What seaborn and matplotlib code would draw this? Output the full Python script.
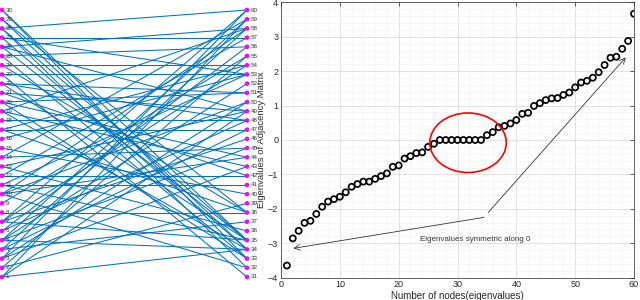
import pandas as pd
import matplotlib
matplotlib.use("Agg")
import matplotlib.pyplot as plt
from matplotlib.patches import Ellipse
from matplotlib.ticker import MultipleLocator
import seaborn as sns

# ---- data ----
node_index = list(range(1, 61))
eigenvalues = [
    -3.65, -2.86, -2.64, -2.41, -2.35, -2.15, -1.94, -1.79, -1.72, -1.65,
    -1.52, -1.36, -1.28, -1.21, -1.21, -1.13, -1.05, -0.97, -0.78, -0.74,
    -0.54, -0.47, -0.38, -0.36, -0.20, -0.11, 0.0, 0.0, 0.0, 0.0,
    0.0, 0.0, 0.0, 0.0, 0.14, 0.23, 0.37, 0.41, 0.48, 0.58,
    0.76, 0.79, 0.99, 1.07, 1.16, 1.21, 1.22, 1.31, 1.38, 1.53,
    1.67, 1.72, 1.81, 1.97, 2.18, 2.39, 2.42, 2.65, 2.88, 3.67,
]

left_nodes = list(range(1, 31))
right_nodes = list(range(31, 61))

# bipartite edges (left node -> right node)
edge_src = [30, 30, 29, 29, 28, 28, 28, 27, 27, 27,
            26, 26, 26, 25, 25, 24, 24, 23, 23, 22,
            22, 22, 21, 21, 20, 20, 20, 19, 19, 19,
            18, 17, 17, 17, 16, 15, 14, 14, 13, 13,
            12, 12, 11, 11, 11, 10, 10, 10, 10, 9,
            8, 7, 7, 7, 7, 6, 6, 5, 5, 5,
            5, 4, 4, 4, 3, 3, 3, 2, 2, 1,
            1, 1]
edge_dst = [35, 33, 34, 38, 60, 35, 32, 53, 34, 57,
            58, 35, 49, 56, 33, 54, 38, 53, 31, 48,
            35, 51, 49, 42, 51, 44, 33, 58, 43, 34,
            48, 47, 54, 38, 53, 40, 45, 59, 49, 36,
            57, 42, 53, 41, 35, 58, 50, 44, 32, 55,
            38, 60, 54, 46, 35, 56, 48, 59, 52, 45,
            34, 58, 47, 37, 60, 50, 43, 55, 39, 34,
            59, 49]

# ---- tables for seaborn ----
rows = []
for k, (a, b) in enumerate(zip(edge_src, edge_dst)):
    rows.append({"edge": k, "x": 0.0, "y": a})
    rows.append({"edge": k, "x": 1.0, "y": b - 30})
edges_df = pd.DataFrame(rows)

nodes_df = pd.DataFrame({
    "node": left_nodes + right_nodes,
    "x": [0.0] * len(left_nodes) + [1.0] * len(right_nodes),
    "y": left_nodes + [n - 30 for n in right_nodes],
})

eig_df = pd.DataFrame({"n": node_index, "lam": eigenvalues})

sns.set_style("white")
plt.rcParams["font.family"] = ["Liberation Sans", "DejaVu Sans"]

fig = plt.figure(figsize=(6.4, 3.0), dpi=100)

# ---- left: bipartite graph ----
ax_g = fig.add_axes([2 / 640, 23 / 300, 245 / 640, 267 / 300])
sns.lineplot(data=edges_df, x="x", y="y", units="edge", estimator=None,
             sort=False, color="#0072BD", linewidth=0.75, ax=ax_g, legend=False)
sns.scatterplot(data=nodes_df, x="x", y="y", color="#FF00FF", s=11,
                edgecolor="none", ax=ax_g, legend=False, zorder=3)
for art in ax_g.lines + ax_g.collections:
    art.set_clip_on(False)
for _, r in nodes_df.iterrows():
    ax_g.annotate(str(int(r["node"])), (r["x"], r["y"]), xytext=(2.5, 0),
                  textcoords="offset points", fontsize=4.5, va="center",
                  ha="left", color="#333333")
ax_g.set_xlim(0, 1)
ax_g.set_ylim(1, 30)
ax_g.axis("off")

# ---- right: eigenvalues ----
ink = "#262626"
ax = fig.add_axes([281 / 640, 22.4 / 300, 353 / 640, 275.2 / 300])
sns.scatterplot(data=eig_df, x="n", y="lam", ax=ax, s=19, marker="o",
                color="black", linewidth=1.25, legend=False, zorder=4)
pts = ax.collections[0]
pts.set_facecolor("none")
pts.set_edgecolor("black")

ax.add_patch(Ellipse((31.8, -0.08), 13.0, 1.73, fill=False,
                     edgecolor="red", linewidth=1.2, zorder=5))

arrow_kw = dict(arrowstyle="->", color="#333333", lw=0.6, shrinkA=0, shrinkB=0)
ax.annotate("", xy=(2.1, -3.15), xytext=(34.5, -2.25), arrowprops=arrow_kw)
ax.annotate("", xy=(58.6, 2.4), xytext=(35.2, -2.11), arrowprops=arrow_kw)
ax.text(33.0, -2.89, "Eigenvalues symmetric along 0", fontsize=5.8,
        ha="center", va="center", color="#333333")

ax.set_xlim(0, 60)
ax.set_ylim(-4, 4)
ax.set_xticks(range(0, 61, 10))
ax.set_yticks(range(-4, 5))
ax.xaxis.set_minor_locator(MultipleLocator(2))
ax.yaxis.set_minor_locator(MultipleLocator(0.2))
ax.grid(which="major", color="#dcdcdc", linewidth=0.6)
ax.grid(which="minor", color="#efefef", linewidth=0.4)
ax.set_axisbelow(True)
ax.tick_params(which="major", direction="in", top=True, right=True,
               length=3, width=0.5, color=ink, labelcolor=ink,
               labelsize=6.5, pad=2)
ax.tick_params(which="minor", length=0)
for sp in ax.spines.values():
    sp.set_linewidth(0.5)
    sp.set_color(ink)
ax.set_xlabel("Number of nodes(eigenvalues)", fontsize=7, color=ink, labelpad=1)
ax.set_ylabel("Eigenvalues of Adjacency Matrix", fontsize=6.8, color=ink)
ax.yaxis.set_label_coords(-0.043, 0.5)

fig.savefig("out.png", dpi=100)
